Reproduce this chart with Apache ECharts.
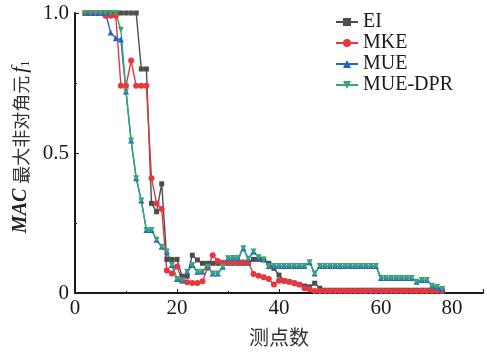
<!DOCTYPE html>
<html>
<head>
<meta charset="utf-8">
<script src="https://cdn.jsdelivr.net/npm/echarts@6/dist/echarts.min.js"></script>
<style>
  html, body { margin: 0; padding: 0; background: #fff; }
  #chart { width: 487px; height: 355px; }
</style>
</head>
<body>
<div id="chart"></div>
<script>
// Measurement point index (测点数)
const points = [2,3,4,5,6,7,8,9,10,11,12,13,14,15,16,17,18,19,20,21,22,23,24,25,26,27,28,29,30,31,32,33,34,35,36,37,38,39,40,41,42,43,44,45,46,47,48,49,50,51,52,53,54,55,56,57,58,59,60,61,62,63,64,65,66,67,68,69,70,71,72];

// Maximum off-diagonal MAC element f1 for each method
const ei = [1,1,1,1,1,1,1,1,1,1,1, 0.80,0.80, 0.32,0.29,0.39, 0.12,0.12,0.12, 0.06,0.06, 0.135,0.118,
  0.106,0.106,0.106,0.106,0.106,0.106,0.106,0.106,0.106,0.106,
  0.12,0.12,0.12, 0.106,0.088,0.064,0.044,0.04,0.036,0.03,0.025,0.022,0.035,0.017,
  0.01,0.01,0.01,0.01,0.01,0.01,0.01,0.01,0.01,0.01,0.01,0.01,0.01,0.01,0.01,0.01,0.01,0.01,0.01,0.01,0.01,0.01,0.01,0.01];

const mke = [1,1,1,1, 0.99,0.99,0.99, 0.74,0.74,0.83,0.74,0.74,0.74, 0.41,0.32,0.30,
  0.08,0.07,0.095,0.045,0.038,0.036,0.036,0.042,0.09,0.135,0.114,0.108,
  0.11,0.11,0.11,0.11,0.11,
  0.068,0.062,0.056,0.05,0.03,0.044,0.043,0.04,0.035,0.03,0.017,0.013,
  0.007,0.007,0.007,0.007,0.007,0.007,0.007,0.007,0.007,0.007,0.007,0.007,0.007,0.007,0.007,0.007,0.007,0.007,0.007,0.007,0.007,0.007,0.007,0.007,0.007,0.007];

const mue = [1,1,1,1,1, 0.93,0.91,0.905,
  0.72,0.545,0.41,0.33,0.225,0.225,0.19,0.165,0.148,0.10,0.05,0.045,0.076,0.10,0.076,0.076,0.094,0.07,0.07,0.094,0.124,0.125,0.125,0.16,0.122,0.148,0.128,0.12,
  0.096,0.096,0.096,0.096,0.096,0.096,0.096,0.096, 0.11,0.07,
  0.096,0.096,0.096,0.096,0.096,0.096,0.096,0.096,0.096,0.096,0.096,0.096,
  0.054,0.054,0.054,0.054,0.054,0.054,0.054, 0.04,0.046,0.046,0.026,0.021,0.014];

const mueDpr = [1,1,1,1,1,1,1,
  0.94,0.72,0.545,0.41,0.33,0.225,0.225,0.19,0.165,0.148,0.10,0.05,0.045,0.076,0.10,0.076,0.076,0.094,0.07,0.07,0.094,0.124,0.125,0.125,0.16,0.122,0.148,0.128,0.12,
  0.096,0.096,0.096,0.096,0.096,0.096,0.096,0.096, 0.11,0.07,
  0.096,0.096,0.096,0.096,0.096,0.096,0.096,0.096,0.096,0.096,0.096,0.096,
  0.054,0.054,0.054,0.054,0.054,0.054,0.054, 0.04,0.046,0.046,0.026,0.021,0.014];

const xTicks = [0, 20, 40, 60, 80];
const yTicks = [0, 0.5, 1.0];

const SERIF = '"Liberation Serif", "DejaVu Serif", serif';
const CJK = '"Noto Sans CJK SC", sans-serif';
const INK = '#1a1a1a';

function pairs(ys) { return points.map((x, i) => [x, ys[i]]); }

function lineSeries(name, ys, color, symbol, rotate, size) {
  return {
    name: name,
    type: 'line',
    data: pairs(ys),
    symbol: symbol,
    symbolSize: size,
    symbolRotate: rotate,
    showSymbol: true,
    lineStyle: { color: color, width: 1.4 },
    itemStyle: { color: color },
    emphasis: { disabled: true },
    animation: false
  };
}

const chart = echarts.init(document.getElementById('chart'), null, { renderer: 'canvas' });

chart.setOption({
  backgroundColor: '#fff',
  animation: false,
  grid: { left: 75, right: 4, top: 13, bottom: 62, containLabel: false },
  legend: {
    orient: 'vertical',
    left: 335,
    top: 12,
    padding: 0,
    itemWidth: 22,
    itemHeight: 10,
    itemGap: 1,
    textStyle: { fontFamily: SERIF, fontSize: 20, color: INK, lineHeight: 20 },
    data: ['EI', 'MKE', 'MUE', 'MUE-DPR']
  },
  xAxis: {
    type: 'value',
    min: 0,
    max: 80,
    interval: 20,
    name: '测点数',
    nameLocation: 'middle',
    nameGap: 34,
    nameTextStyle: { fontFamily: CJK, fontSize: 20, color: '#333' },
    axisLine: { show: true, lineStyle: { color: INK, width: 2 } },
    axisTick: { show: true, inside: true, length: 4, lineStyle: { color: INK, width: 1 } },
    minorTick: { show: true, splitNumber: 2, length: 2, lineStyle: { color: INK, width: 1 } },
    splitLine: { show: false },
    axisLabel: {
      fontFamily: SERIF,
      fontSize: 21,
      color: INK,
      margin: 5,
      formatter: function (v) {
        if (xTicks.indexOf(v) < 0) return '';
        return v === 80 ? '{e|80}' : String(v);
      },
      rich: {
        e: { fontFamily: SERIF, fontSize: 21, color: INK, padding: [0, 62, 0, 0] }
      }
    }
  },
  yAxis: {
    type: 'value',
    min: 0,
    max: 1,
    interval: 0.5,
    name: '{b|MAC} {c|最大非对角元}{i|f}{s|1}',
    nameLocation: 'middle',
    nameGap: 38,
    nameRotate: 90,
    nameTextStyle: {
      fontFamily: SERIF,
      fontSize: 20,
      color: '#333',
      padding: [0, 0, 0, 12],
      rich: {
        b: { fontFamily: SERIF, fontSize: 20, fontWeight: 'bold', fontStyle: 'italic', color: '#222' },
        c: { fontFamily: CJK, fontSize: 18, color: '#333', padding: [0, 3, 0, 0] },
        i: { fontFamily: SERIF, fontSize: 21, fontStyle: 'italic', color: '#222' },
        s: { fontFamily: SERIF, fontSize: 12, color: '#222', verticalAlign: 'bottom', padding: [10, 0, 0, 0] }
      }
    },
    axisLine: { show: true, lineStyle: { color: INK, width: 2 } },
    axisTick: { show: true, inside: true, length: 4, lineStyle: { color: INK, width: 1 } },
    minorTick: { show: true, splitNumber: 2, length: 2, lineStyle: { color: INK, width: 1 } },
    splitLine: { show: false },
    axisLabel: {
      fontFamily: SERIF,
      fontSize: 21,
      color: INK,
      margin: 6,
      formatter: function (v) {
        if (v === 0) return '0';
        return v.toFixed(1);
      }
    }
  },
  series: [
    lineSeries('EI', ei, '#4d4d4d', 'rect', 0, 5),
    lineSeries('MKE', mke, '#e8363f', 'circle', 0, 6),
    lineSeries('MUE', mue, '#2363c4', 'triangle', 0, 6),
    lineSeries('MUE-DPR', mueDpr, '#36a677', 'triangle', 180, 6)
  ]
});
</script>
</body>
</html>
